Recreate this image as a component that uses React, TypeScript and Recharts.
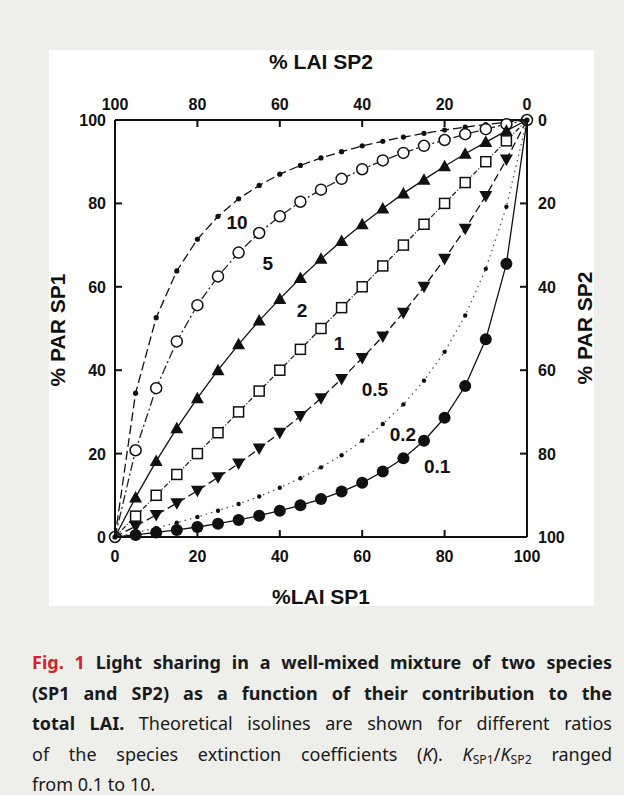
import React from "react";
import { LineChart, Line, XAxis, YAxis, ReferenceDot } from "recharts";

// % LAI of species 1 (x) and % PAR absorbed by species 1 (y), one list per K ratio
const laiSP1 = [0, 5, 10, 15, 20, 25, 30, 35, 40, 45, 50, 55, 60, 65, 70, 75, 80, 85, 90, 95, 100];
const parK10 = [0, 34.5, 52.6, 63.8, 71.4, 76.9, 81.1, 84.3, 87.0, 89.1, 90.9, 92.4, 93.8, 94.9, 95.9, 96.8, 97.6, 98.3, 98.9, 99.5, 100];
const parK5 = [0, 20.8, 35.7, 46.9, 55.6, 62.5, 68.2, 72.9, 76.9, 80.4, 83.3, 85.9, 88.2, 90.3, 92.1, 93.8, 95.2, 96.6, 97.8, 99.0, 100];
const parK2 = [0, 9.5, 18.2, 26.1, 33.3, 40.0, 46.2, 51.9, 57.1, 62.1, 66.7, 71.0, 75.0, 78.8, 82.4, 85.7, 88.9, 91.9, 94.7, 97.4, 100];
const parK1 = [0, 5, 10, 15, 20, 25, 30, 35, 40, 45, 50, 55, 60, 65, 70, 75, 80, 85, 90, 95, 100];
const parK05 = [0, 2.6, 5.3, 8.1, 11.1, 14.3, 17.6, 21.2, 25.0, 29.0, 33.3, 37.9, 42.9, 48.1, 53.8, 60.0, 66.7, 73.9, 81.8, 90.5, 100];
const parK02 = [0, 1.0, 2.2, 3.4, 4.8, 6.3, 7.9, 9.7, 11.8, 14.1, 16.7, 19.6, 23.1, 27.1, 31.8, 37.5, 44.4, 53.1, 64.3, 79.2, 100];
const parK01 = [0, 0.5, 1.1, 1.7, 2.4, 3.2, 4.1, 5.1, 6.3, 7.6, 9.1, 10.9, 13.0, 15.7, 18.9, 23.1, 28.6, 36.2, 47.4, 65.5, 100];

const ticks = [0, 20, 40, 60, 80, 100];

// isoline labels, in data units of the bottom/left axes
const isolineLabels = [
  { text: "10", x: 29.6, y: 75.3 },
  { text: "5", x: 37.1, y: 65.7 },
  { text: "2", x: 45.4, y: 54.2 },
  { text: "1", x: 54.4, y: 46.5 },
  { text: "0.5", x: 63.1, y: 35.3 },
  { text: "0.2", x: 69.9, y: 24.7 },
  { text: "0.1", x: 78.2, y: 16.8 },
];

const table = laiSP1.map((x, i) => ({
  x,
  k10: parK10[i],
  k5: parK5[i],
  k2: parK2[i],
  k1: parK1[i],
  k05: parK05[i],
  k02: parK02[i],
  k01: parK01[i],
}));

const series = [
  { key: "k10", marker: "smalldot", dash: "9 4", ends: true, color: "#111" },
  { key: "k5", marker: "opencircle", dash: "9 3 2 3", ends: true, color: "#222" },
  { key: "k2", marker: "triup", dash: undefined, ends: false, color: "#111" },
  { key: "k1", marker: "square", dash: "5 2 1 2", ends: false, color: "#222" },
  { key: "k05", marker: "tridown", dash: "8 4", ends: false, color: "#111" },
  { key: "k02", marker: "tinydot", dash: "1.5 4", ends: false, color: "#555" },
  { key: "k01", marker: "bigdot", dash: undefined, ends: false, color: "#111" },
];

const ARIAL = "'Liberation Sans', Arial, Helvetica, sans-serif";
const INK = "#111";

const tickText = { fontFamily: ARIAL, fontWeight: 700, fontSize: 16, fill: INK } as const;

function makeDot(kind: string, ends: boolean) {
  return (props: any) => {
    const { cx, cy, index } = props;
    const k = `${kind}-${index}`;
    const isEnd = index === 0 || index === laiSP1.length - 1;
    if (cx == null || cy == null) return <g key={k} />;
    if (!ends && isEnd) return <g key={k} />;
    switch (kind) {
      case "smalldot":
        return <circle key={k} cx={cx} cy={cy} r={2.6} fill={INK} />;
      case "tinydot":
        return <circle key={k} cx={cx} cy={cy} r={2.2} fill={INK} />;
      case "opencircle":
        return <circle key={k} cx={cx} cy={cy} r={5.5} fill={isEnd ? "none" : "#fff"} stroke={INK} strokeWidth={1.5} />;
      case "square":
        return <rect key={k} x={cx - 5} y={cy - 5} width={10} height={10} fill="#fff" stroke={INK} strokeWidth={1.5} />;
      case "triup":
        return <polygon key={k} points={`${cx},${cy - 6.5} ${cx - 6.5},${cy + 5} ${cx + 6.5},${cy + 5}`} fill={INK} />;
      case "tridown":
        return <polygon key={k} points={`${cx},${cy + 6.5} ${cx - 6.5},${cy - 5} ${cx + 6.5},${cy - 5}`} fill={INK} />;
      case "bigdot":
        return <circle key={k} cx={cx} cy={cy} r={6} fill={INK} />;
      default:
        return <g key={k} />;
    }
  };
}

function BottomTick({ x, y, payload }: any) {
  return (
    <g>
      <line x1={x} y1={y} x2={x} y2={y - 7} stroke={INK} strokeWidth={2} />
      <text x={x} y={y + 25} textAnchor="middle" {...tickText}>{payload.value}</text>
    </g>
  );
}

function TopTick({ x, y, payload }: any) {
  return (
    <g>
      <line x1={x} y1={y} x2={x} y2={y + 7} stroke={INK} strokeWidth={2} />
      <text x={x} y={y - 10} textAnchor="middle" {...tickText}>{payload.value}</text>
    </g>
  );
}

function LeftTick({ x, y, payload }: any) {
  return (
    <g>
      <line x1={x} y1={y} x2={x + 7} y2={y} stroke={INK} strokeWidth={2} />
      <text x={x - 9} y={y + 6} textAnchor="end" {...tickText}>{payload.value}</text>
    </g>
  );
}

function RightTick({ x, y, payload }: any) {
  return (
    <g>
      <line x1={x} y1={y} x2={x - 7} y2={y} stroke={INK} strokeWidth={2} />
      <text x={x + 11} y={y + 6} textAnchor="start" {...tickText}>{payload.value}</text>
    </g>
  );
}

const axisLine = { stroke: INK, strokeWidth: 2 };

const titleStyle: React.CSSProperties = {
  position: "absolute",
  fontFamily: ARIAL,
  fontWeight: 700,
  fontSize: 21,
  color: INK,
  whiteSpace: "nowrap",
  lineHeight: 1,
};

const capLine: React.CSSProperties = {
  textAlign: "justify",
  textAlignLast: "justify",
  whiteSpace: "nowrap",
  height: 30.5,
  lineHeight: "30.5px",
};

const sub: React.CSSProperties = { fontSize: "0.68em", verticalAlign: "-0.28em", lineHeight: 0 };

export default function App() {
  return (
    <div style={{ position: "absolute", left: 0, top: 0, width: 624, height: 795, background: "#eeeeea", overflow: "hidden" }}>
      <div style={{ position: "absolute", left: 49, top: 50, width: 545, height: 556, background: "#fff" }} />

      <div style={{ position: "absolute", left: 0, top: 0 }}>
        <LineChart width={624} height={620} data={table} margin={{ top: 119, left: 114, right: 96, bottom: 82 }}>
          <XAxis xAxisId="bottom" dataKey="x" type="number" domain={[0, 100]} ticks={ticks} orientation="bottom"
            height={1} tickSize={0} tickMargin={0} axisLine={axisLine} tickLine={false} tick={<BottomTick />} />
          <XAxis xAxisId="top" dataKey="x" type="number" domain={[0, 100]} ticks={ticks} orientation="top" reversed
            height={1} tickSize={0} tickMargin={0} axisLine={axisLine} tickLine={false} tick={<TopTick />} />
          <YAxis yAxisId="left" type="number" domain={[0, 100]} ticks={ticks} orientation="left"
            width={1} tickSize={0} tickMargin={0} axisLine={axisLine} tickLine={false} tick={<LeftTick />} />
          {/* % PAR SP2 = 100 - % PAR SP1; no series of its own, so the domain is fixed */}
          <YAxis yAxisId="right" type="number" domain={[0, 100]} ticks={ticks} orientation="right" reversed allowDataOverflow
            width={1} tickSize={0} tickMargin={0} axisLine={axisLine} tickLine={false} tick={<RightTick />} />

          {series.map((s) => (
            <Line
              key={s.key}
              xAxisId="bottom"
              yAxisId="left"
              dataKey={s.key}
              type="linear"
              stroke={s.color}
              strokeWidth={1.3}
              strokeDasharray={s.dash}
              dot={makeDot(s.marker, s.ends)}
              activeDot={false}
              isAnimationActive={false}
            />
          ))}

          {isolineLabels.map((l) => (
            <ReferenceDot
              key={l.text}
              xAxisId="bottom"
              yAxisId="left"
              x={l.x}
              y={l.y}
              r={0}
              shape={(p: any) => (
                <text x={p.cx} y={p.cy} textAnchor="middle" dominantBaseline="central"
                  fontFamily={ARIAL} fontWeight={700} fontSize={19} fill={INK}>
                  {l.text}
                </text>
              )}
            />
          ))}
        </LineChart>
      </div>

      <div style={{ ...titleStyle, left: 321, top: 61, transform: "translate(-50%, -50%)" }}>% LAI SP2</div>
      <div style={{ ...titleStyle, left: 321, top: 596, transform: "translate(-50%, -50%)" }}>%LAI SP1</div>
      <div style={{ ...titleStyle, left: 57, top: 330, transform: "translate(-50%, -50%) rotate(-90deg)" }}>% PAR SP1</div>
      <div style={{ ...titleStyle, left: 584, top: 328, transform: "translate(-50%, -50%) rotate(-90deg)" }}>% PAR SP2</div>

      <div style={{ position: "absolute", left: 32, top: 647, width: 580, fontFamily: "'Noto Sans', 'Open Sans', sans-serif", fontSize: 18, color: "#1a1a1a" }}>
        <div style={capLine}>
          <span style={{ color: "#d2232a", fontWeight: 700 }}>Fig. 1</span>{" "}
          <b>Light sharing in a well-mixed mixture of two species</b>
        </div>
        <div style={capLine}><b>(SP1 and SP2) as a function of their contribution to the</b></div>
        <div style={capLine}><b>total LAI.</b> Theoretical isolines are shown for different ratios</div>
        <div style={capLine}>
          of the species extinction coefficients (<i>K</i>). <i>K</i><span style={sub}>SP1</span>/<i>K</i><span style={sub}>SP2</span> ranged
        </div>
        <div style={{ ...capLine, textAlign: "left", textAlignLast: "left" }}>from 0.1 to 10.</div>
      </div>
    </div>
  );
}
